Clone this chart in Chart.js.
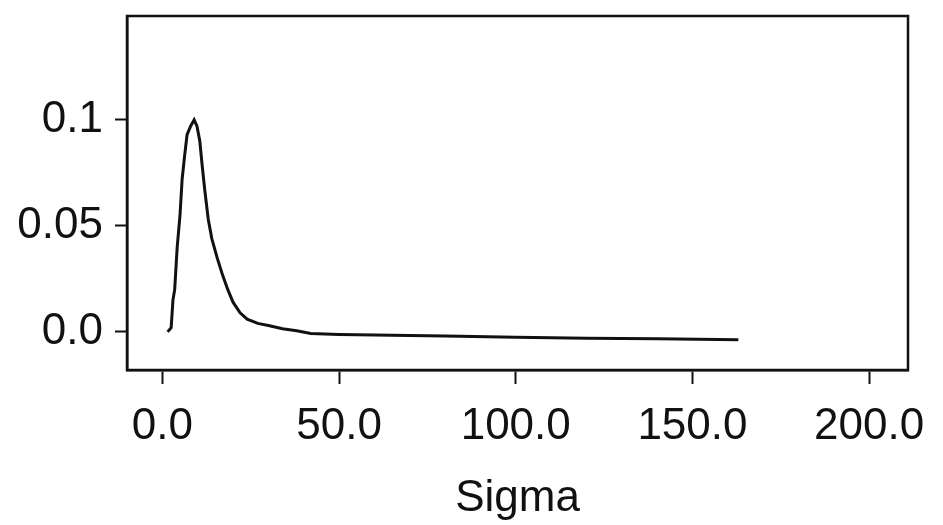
<!DOCTYPE html>
<html>
<head>
<meta charset="utf-8">
<script src="https://cdn.jsdelivr.net/npm/chart.js@4/dist/chart.umd.min.js"></script>
<style>
  html, body { margin: 0; padding: 0; background: #fff; }
  #c { display: block; }
</style>
</head>
<body>
<canvas id="c" width="943" height="525"></canvas>
<script>
// values
const sigma = [1.5, 2.5, 3.0, 3.5, 4.2, 5.0, 5.6, 6.3, 7.0, 8.0, 9.0, 9.8, 10.6, 11.3, 12.0, 13.0, 14.0, 15.5, 17.0, 18.5, 20.0, 22.0, 24.0, 27.0, 30.0, 34.0, 38.0, 42.0, 50.0, 60.0, 80.0, 100.0, 120.0, 140.0, 163.0]
const density = [0.0, 0.002, 0.015, 0.02, 0.04, 0.055, 0.072, 0.083, 0.093, 0.097, 0.1, 0.097, 0.09, 0.078, 0.067, 0.053, 0.044, 0.035, 0.027, 0.02, 0.014, 0.009, 0.006, 0.004, 0.003, 0.0015, 0.0005, -0.0008, -0.0012, -0.0015, -0.002, -0.0025, -0.003, -0.0033, -0.0037]

const xTicks = [0, 50, 100, 150, 200]
const xTickLabels = ['0.0', '50.0', '100.0', '150.0', '200.0']
const yTicks = [0, 0.05, 0.1]
const yTickLabels = ['0.0', '0.05', '0.1']

const ink = '#111'
const font = { family: "'Liberation Sans', Arial, sans-serif", size: 44 }

// full frame around the plot
const frame = {
    id: 'frame',
    afterDraw(chart) {
        const { ctx, chartArea: a } = chart
        ctx.save()
        ctx.strokeStyle = ink
        ctx.lineWidth = 2.5
        ctx.strokeRect(a.left, a.top, a.right - a.left, a.bottom - a.top)
        ctx.restore()
    }
}

const points = sigma.map((s, i) => ({ x: s, y: density[i] }))

new Chart(document.getElementById('c').getContext('2d'), {
    type: 'scatter',
    data: {
        datasets: [{
            data: points,
            showLine: true,
            borderColor: ink,
            borderWidth: 3,
            pointRadius: 0,
            tension: 0
        }]
    },
    options: {
        responsive: false,
        animation: false,
        layout: { padding: { top: 16, right: 35, left: 0, bottom: 0 } },
        plugins: { legend: { display: false }, tooltip: { enabled: false } },
        scales: {
            x: {
                type: 'linear',
                min: -10,
                max: 211,
                afterBuildTicks: scale => { scale.ticks = xTicks.map(v => ({ value: v })) },
                afterFit: scale => { scale.height = 155; scale.paddingLeft = 0; scale.paddingRight = 0 },
                ticks: {
                    color: ink,
                    font: font,
                    padding: 16,
                    maxRotation: 0,
                    callback: (v) => xTickLabels[xTicks.indexOf(v)]
                },
                grid: { drawOnChartArea: false, color: ink, tickLength: 14, tickWidth: 2 },
                border: { color: ink, width: 2.5 },
                title: { display: true, text: 'Sigma', color: ink, font: font, padding: { top: 0, bottom: 0 } }
            },
            y: {
                type: 'linear',
                min: -0.018,
                max: 0.149,
                afterBuildTicks: scale => { scale.ticks = yTicks.map(v => ({ value: v })) },
                afterFit: scale => { scale.width = 127; scale.paddingTop = 0; scale.paddingBottom = 0 },
                ticks: {
                    color: ink,
                    font: font,
                    padding: 12,
                    callback: (v) => yTickLabels[yTicks.indexOf(v)]
                },
                grid: { drawOnChartArea: false, color: ink, tickLength: 12, tickWidth: 2 },
                border: { color: ink, width: 2.5 }
            }
        }
    },
    plugins: [frame]
})
</script>
</body>
</html>
